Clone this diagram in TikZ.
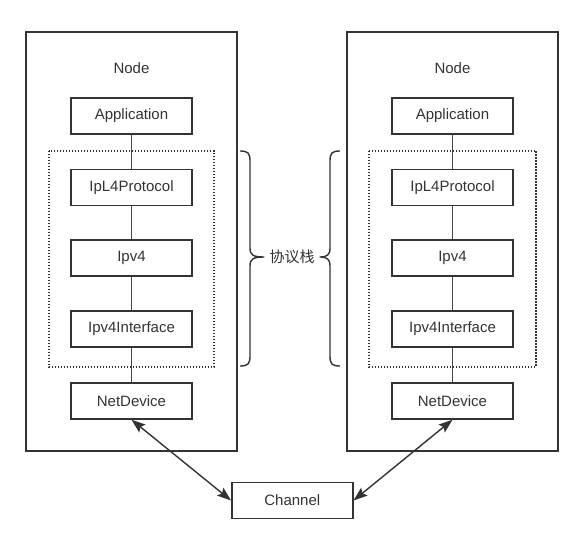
\documentclass[tikz,border=0pt]{standalone}
\usepackage{fontspec}
\setmainfont{Liberation Sans}
\newfontfamily\cjk{Noto Sans CJK SC}
\usetikzlibrary{arrows.meta}
\definecolor{ink}{HTML}{333333}

\begin{document}
\begin{tikzpicture}[x=1pt,y=-1pt,
		every node/.style={text=ink,font=\fontsize{15}{18}\selectfont},
		layer/.style={draw=ink,line width=1.4pt,minimum width=121pt,minimum height=36pt,inner sep=0pt},
		nodebox/.style={draw=ink,line width=1.4pt,minimum width=211pt,minimum height=419pt,inner sep=0pt},
		stackbox/.style={draw=ink,line width=1.6pt,dash pattern=on 1.4pt off 1.6pt},
		link/.style={draw=ink!90,line width=1.2pt},
		wire/.style={draw=ink,line width=1.4pt,{Stealth[length=14pt,width=10pt,inset=2.5pt]}-{Stealth[length=14pt,width=10pt,inset=2.5pt]}},
		brace/.style={draw=ink,line width=1.4pt}]
	\useasboundingbox (0,0) rectangle (581,541);

	% left node
	\node[nodebox] (nodeL) at (131.5,241.5) {};
	\node (titleL) at (131.5,68) {Node};
	\draw[stackbox] (48.7,150.7) rectangle (214,366.7);
	\node[layer] (appL) at (131.5,116) {Application};
	\node[layer] (l4L) at (131.5,187.3) {IpL4Protocol};
	\node[layer] (ipL) at (131.5,258) {Ipv4};
	\node[layer] (ifL) at (131.5,329) {Ipv4Interface};
	\node[layer] (devL) at (131.5,401) {NetDevice};
	\draw[link] (appL) -- (l4L) -- (ipL) -- (ifL) -- (devL);

	% right node
	\node[nodebox] (nodeR) at (452.5,241.5) {};
	\node (titleR) at (452.5,68) {Node};
	\draw[stackbox] (369,150.7) rectangle (536,366.7);
	\node[layer] (appR) at (452.5,116) {Application};
	\node[layer] (l4R) at (452.5,187.3) {IpL4Protocol};
	\node[layer] (ipR) at (452.5,258) {Ipv4};
	\node[layer] (ifR) at (452.5,329) {Ipv4Interface};
	\node[layer] (devR) at (452.5,401) {NetDevice};
	\draw[link] (appR) -- (l4R) -- (ipR) -- (ifR) -- (devR);

	% protocol stack braces
	\node[inner xsep=5pt] (stack) at (292,257) {\cjk 协议栈};
	\draw[brace] (240,151) .. controls (248,151) and (250,153) .. (250,161)
		-- (250,248) .. controls (250,255) and (253,257) .. (stack.west)
		.. controls (253,257) and (250,259) .. (250,266)
		-- (250,356) .. controls (250,364) and (248,366) .. (240,366);
	\draw[brace] (340,151) .. controls (332,151) and (330,153) .. (330,161)
		-- (330,248) .. controls (330,255) and (327,257) .. (stack.east)
		.. controls (327,257) and (330,259) .. (330,266)
		-- (330,356) .. controls (330,364) and (332,366) .. (340,366);

	% channel
	\node[layer] (chan) at (292.3,500.5) {Channel};
	\draw[wire] (devL.south) -- (chan.west);
	\draw[wire] (devR.south) -- (chan.east);
\end{tikzpicture}
\end{document}
